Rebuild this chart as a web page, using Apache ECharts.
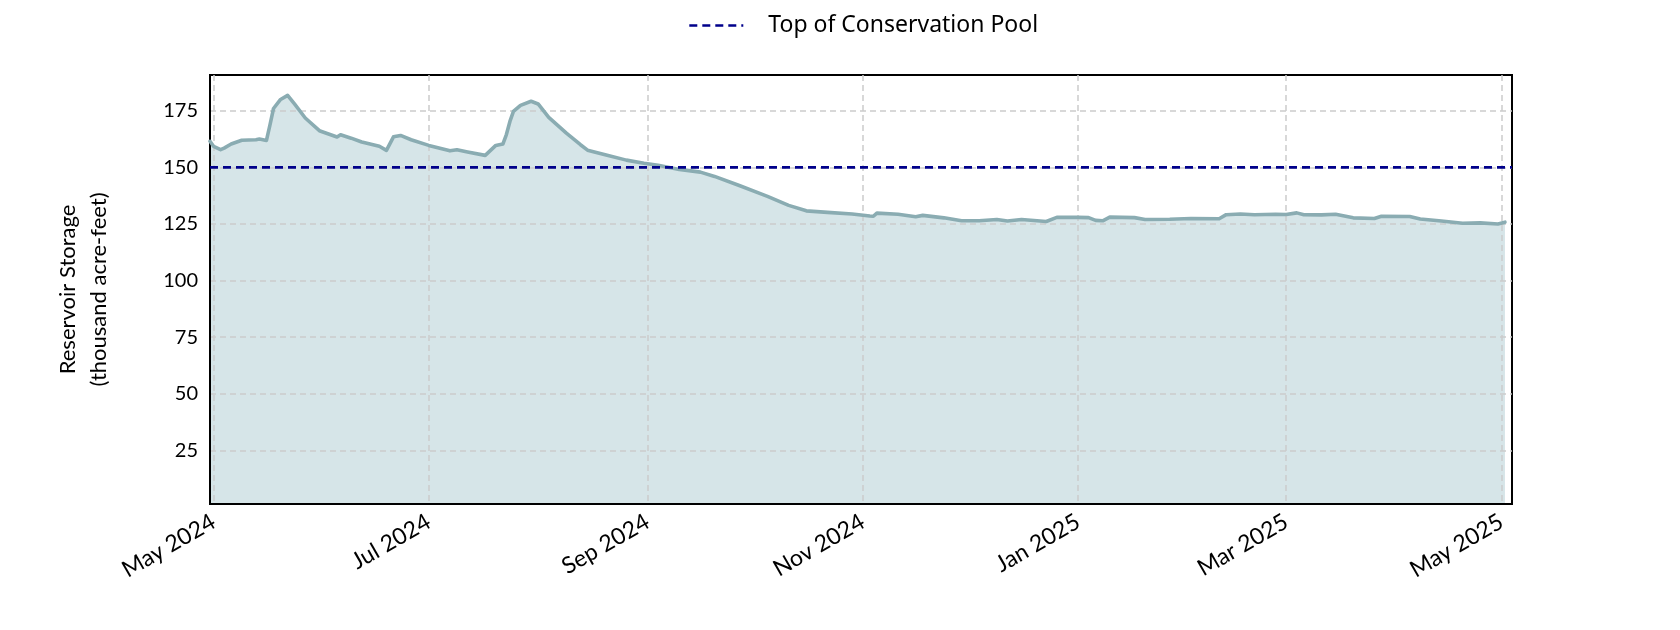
<!DOCTYPE html>
<html>
<head>
<meta charset="utf-8">
<script src="https://cdn.jsdelivr.net/npm/echarts@6/dist/echarts.min.js"></script>
<style>
html,body{margin:0;padding:0;background:#fff;}
#chart{width:1680px;height:630px;}
</style>
</head>
<body>
<div id="chart"></div>
<script>
// ---- data ----
const storageDates = [
  '2024-04-30','2024-05-01','2024-05-03','2024-05-04','2024-05-06','2024-05-09','2024-05-13','2024-05-14',
  '2024-05-16','2024-05-17','2024-05-18','2024-05-20','2024-05-22','2024-05-24','2024-05-27','2024-05-31',
  '2024-06-05','2024-06-06','2024-06-09','2024-06-12','2024-06-17','2024-06-19','2024-06-21','2024-06-23',
  '2024-06-26','2024-07-01','2024-07-07','2024-07-09','2024-07-12','2024-07-17','2024-07-20','2024-07-22',
  '2024-07-23','2024-07-24','2024-07-25','2024-07-27','2024-07-30','2024-08-01','2024-08-04','2024-08-09',
  '2024-08-13','2024-08-15','2024-08-20','2024-08-26','2024-08-31','2024-09-04','2024-09-10','2024-09-16',
  '2024-09-20','2024-09-27','2024-10-05','2024-10-11','2024-10-16','2024-10-22','2024-10-29','2024-11-03',
  '2024-11-04','2024-11-05','2024-11-11','2024-11-16','2024-11-18','2024-11-24','2024-11-29','2024-12-04',
  '2024-12-09','2024-12-12','2024-12-16','2024-12-23','2024-12-26','2025-01-01','2025-01-04','2025-01-06',
  '2025-01-08','2025-01-10','2025-01-17','2025-01-20','2025-01-27','2025-02-02','2025-02-10','2025-02-12',
  '2025-02-16','2025-02-20','2025-02-26','2025-03-01','2025-03-04','2025-03-06','2025-03-11','2025-03-15',
  '2025-03-20','2025-03-26','2025-03-28','2025-04-05','2025-04-08','2025-04-14','2025-04-20','2025-04-25',
  '2025-04-30','2025-05-02'
];
const storageValues = [
  161.5,159.3,157.8,158.5,160.3,162.0,162.2,162.5,
  161.9,168.8,176.0,180.0,181.8,177.9,171.8,166.2,
  163.4,164.4,162.9,161.2,159.3,157.5,163.5,164.1,
  162.2,159.7,157.3,157.8,156.8,155.3,159.7,160.3,
  164.5,170.3,174.7,177.4,179.2,178.0,172.1,165.1,
  160.0,157.6,155.6,153.2,151.8,150.9,149.1,147.9,
  146.0,142.0,137.2,133.2,130.8,130.1,129.4,128.5,
  128.4,129.8,129.3,128.2,128.8,127.7,126.4,126.4,
  127.0,126.3,127.0,126.1,127.9,127.9,127.8,126.6,
  126.4,128.0,127.8,127.0,127.1,127.4,127.3,129.1,
  129.4,129.1,129.3,129.2,129.9,129.1,129.0,129.3,
  127.7,127.4,128.4,128.3,127.2,126.3,125.3,125.5,
  125.0,125.8
];
const conservationPool = 150;
const xStart = '2024-04-30';
const xEnd = '2025-05-04';
const xTickDates = ['2024-05-01','2024-07-01','2024-09-01','2024-11-01','2025-01-01','2025-03-01','2025-05-01'];
const yTicks = [25, 50, 75, 100, 125, 150, 175];
const yMin = 1.3, yMax = 190.8;
const monthNames = ['Jan','Feb','Mar','Apr','May','Jun','Jul','Aug','Sep','Oct','Nov','Dec'];

function ts(s){ const p = s.split('-').map(Number); return Date.UTC(p[0], p[1]-1, p[2]); }

const storageData = storageDates.map((d,i)=>[ts(d), storageValues[i]]);
const poolData = [[ts(xStart), conservationPool],[ts(xEnd), conservationPool]];

const FONT = 'Lato';
const chart = echarts.init(document.getElementById('chart'));
chart.setOption({
  animation: false,
  backgroundColor: '#ffffff',
  textStyle: { fontFamily: FONT },
  grid: { left: 210, right: 168, top: 75, bottom: 126, show: true, borderColor: '#000', borderWidth: 2, backgroundColor: 'transparent' },
  legend: {
    left: 683, top: 9,
    itemWidth: 54, itemHeight: 14,
    itemStyle: { opacity: 0 },
    lineStyle: { color: '#00008b', width: 2.6, type: [8,5] },
    textStyle: { fontSize: 23, color: '#000', fontFamily: 'Noto Sans', padding: [0,0,0,20] },
    data: ['Top of Conservation Pool']
  },
  xAxis: {
    type: 'value',
    min: ts(xStart), max: ts(xEnd),
    z: 5,
    axisLine: { show: true, lineStyle: { color: '#000', width: 2 } },
    axisTick: { show: false, customValues: xTickDates.map(ts) },
    axisLabel: {
      customValues: xTickDates.map(ts),
      rotate: 30, fontSize: 23, color: '#000', fontFamily: FONT, margin: 16,
      formatter: function(v){ const d = new Date(v); return monthNames[d.getUTCMonth()] + ' ' + d.getUTCFullYear(); }
    },
    splitLine: { show: true, lineStyle: { color: '#cccccc', type: [6,4], width: 1.5 } }
  },
  yAxis: {
    type: 'value',
    min: yMin, max: yMax,
    z: 5,
    name: 'Reservoir Storage\n(thousand acre-feet)',
    nameLocation: 'middle', nameRotate: 90, nameGap: 96,
    nameTextStyle: { fontSize: 22, color: '#000', fontFamily: FONT, lineHeight: 31 },
    axisLine: { show: true, lineStyle: { color: '#000', width: 2 } },
    axisTick: { show: false, customValues: yTicks },
    axisLabel: { customValues: yTicks, fontSize: 20, color: '#000', fontFamily: FONT, margin: 12 },
    splitLine: { show: true, lineStyle: { color: '#cccccc', type: [6,4], width: 1.5 } }
  },
  series: [
    {
      name: 'storageArea', type: 'line', z: 1, data: storageData, symbol: 'none',
      lineStyle: { width: 0 }, areaStyle: { color: '#d6e5e8', opacity: 1 }, silent: true
    },
    {
      name: 'Reservoir Storage', type: 'line', z: 10, data: storageData, symbol: 'none',
      lineStyle: { color: '#8aacb2', width: 3.6, join: 'round', cap: 'round' }
    },
    {
      name: 'Top of Conservation Pool', type: 'line', z: 11, data: poolData, symbol: 'none',
      lineStyle: { color: '#00008b', width: 2.6, type: [8,5] }, itemStyle: { color: '#00008b' }
    }
  ]
});
</script>
</body>
</html>
